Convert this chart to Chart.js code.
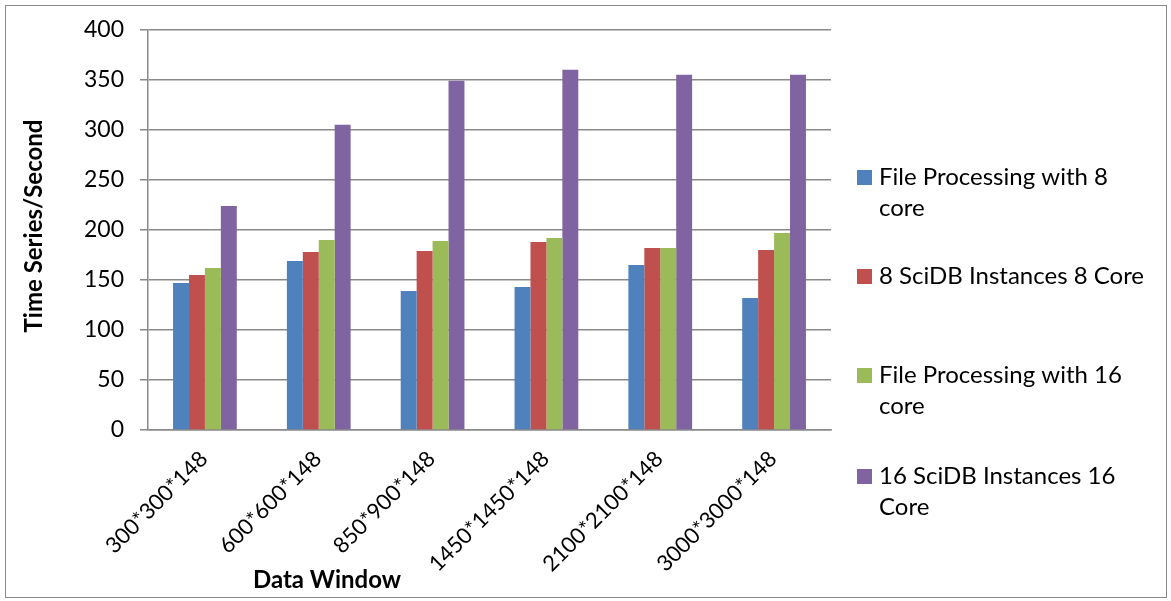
<!DOCTYPE html>
<html>
<head>
<meta charset="utf-8">
<script src="https://cdn.jsdelivr.net/npm/chart.js@4/dist/chart.umd.min.js"></script>
<style>
  html, body { margin: 0; padding: 0; background: #fff; }
  #wrap { width: 1171px; height: 601px; position: relative; }
</style>
</head>
<body>
<div id="wrap"><canvas id="timeChart" width="1171" height="601"></canvas></div>
<script>
// chart data
const windows = ['300*300*148', '600*600*148', '850*900*148', '1450*1450*148', '2100*2100*148', '3000*3000*148'];
const fileProc8 = [147, 169, 139, 143, 165, 132];
const scidb8 = [155, 178, 179, 188, 182, 180];
const fileProc16 = [162, 190, 189, 192, 182, 197];
const scidb16 = [224, 305, 349, 360, 355, 355];
const yTicks = [0, 50, 100, 150, 200, 250, 300, 350, 400];

const seriesNames = [
    ['File Processing with 8', 'core'],
    ['8 SciDB Instances 8 Core'],
    ['File Processing with 16', 'core'],
    ['16 SciDB Instances 16', 'Core']
];
const colors = ['#4F81BD', '#C0504D', '#9BBB59', '#8064A2'];

const FONT = 'Lato, "Open Sans", sans-serif';

// frame, axis titles and wrapped legend
const extras = {
    id: 'extras',
    afterDraw(chart) {
        const c = chart.ctx;
        c.save();
        c.strokeStyle = '#8a8a8a';
        c.lineWidth = 1;
        c.strokeRect(5.5, 5.5, 1161, 592);

        c.fillStyle = '#000';
        c.font = 'bold 24px ' + FONT;
        c.textAlign = 'center';
        c.textBaseline = 'middle';
        c.fillText('Data Window', 327, 580);

        c.save();
        c.translate(34, 226);
        c.rotate(-Math.PI / 2);
        c.fillText('Time Series/Second', 0, 0);
        c.restore();

        // legend
        const rows = [177, 276, 375, 476];
        c.font = '24px ' + FONT;
        c.textAlign = 'left';
        chart.data.datasets.forEach((ds, i) => {
            c.fillStyle = ds.backgroundColor;
            c.fillRect(857, rows[i] - 7, 15, 15);
            c.fillStyle = '#000';
            seriesNames[i].forEach((line, j) => {
                c.fillText(line, 879, rows[i] + j * 31.5);
            });
        });
        c.restore();
    }
};

const ctx = document.getElementById('timeChart').getContext('2d');

const timeChart = new Chart(ctx, {
    type: 'bar',
    data: {
        labels: windows,
        datasets: [
            { label: seriesNames[0].join(' '), data: fileProc8, backgroundColor: colors[0] },
            { label: seriesNames[1].join(' '), data: scidb8, backgroundColor: colors[1] },
            { label: seriesNames[2].join(' '), data: fileProc16, backgroundColor: colors[2] },
            { label: seriesNames[3].join(' '), data: scidb16, backgroundColor: colors[3] }
        ]
    },
    options: {
        responsive: false,
        animation: false,
        events: [],
        layout: {
            padding: { left: 0, top: 21, right: 340, bottom: 0 }
        },
        datasets: {
            bar: { barPercentage: 1, categoryPercentage: 0.56, borderWidth: 0 }
        },
        plugins: {
            legend: { display: false },
            tooltip: { enabled: false }
        },
        scales: {
            x: {
                afterFit(scale) { scale.height = 171; },
                grid: { display: false },
                border: { display: true, color: '#8a8a8a', width: 1.5 },
                ticks: {
                    color: '#000',
                    font: { family: FONT, size: 22 },
                    minRotation: 45,
                    maxRotation: 45,
                    padding: 8,
                    labelOffset: -1
                }
            },
            y: {
                min: 0,
                max: 400,
                afterFit(scale) { scale.width = 148; },
                afterBuildTicks(scale) { scale.ticks = yTicks.map(v => ({ value: v })); },
                grid: { color: '#8a8a8a', lineWidth: 1.5, tickLength: 8 },
                border: { display: true, color: '#8a8a8a', width: 1.5 },
                ticks: {
                    color: '#000',
                    font: { family: FONT, size: 23 },
                    padding: 16
                }
            }
        }
    },
    plugins: [extras]
});
</script>
</body>
</html>
